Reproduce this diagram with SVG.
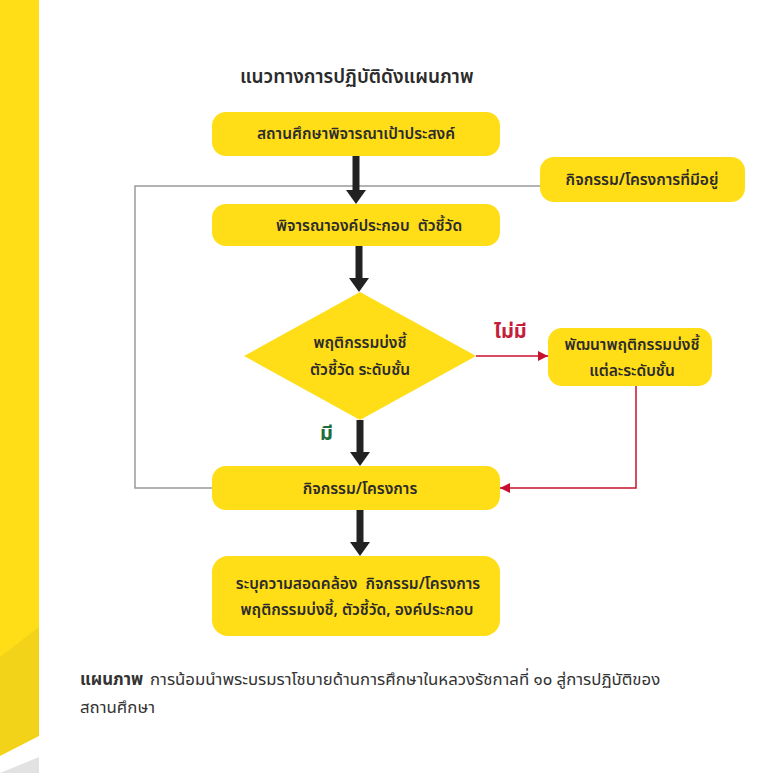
<svg xmlns="http://www.w3.org/2000/svg" width="770" height="773" viewBox="0 0 770 773">
<style>
.node{fill:#FFDD17}
.t{font-family:"Noto Sans Thai","Noto Sans","DejaVu Sans",sans-serif;fill:#2b2b2b;font-weight:600;font-size:15.5px;text-anchor:middle}
.title{font-family:"Noto Sans Thai","Noto Sans","DejaVu Sans",sans-serif;fill:#2b2b2b;font-weight:600;font-size:19px}
.cap{font-family:"Noto Sans Thai","Noto Sans","DejaVu Sans",sans-serif;fill:#333;font-size:16.8px}
.gray{fill:none;stroke:#9a9a9a;stroke-width:1.5}
.red{fill:none;stroke:#C8102E;stroke-width:1.5}
.blk{stroke:#222;stroke-width:7}
</style>
<defs>
<marker id="ah" viewBox="0 0 10 10" refX="10" refY="5" markerWidth="10" markerHeight="10" markerUnits="userSpaceOnUse" orient="auto">
<path d="M0,0 L10,5 L0,10 z" fill="#C8102E"/>
</marker>
</defs>
<rect width="770" height="773" fill="#fff"/>
<g id="sidebar">
<rect x="0" y="0" width="39" height="773" fill="#FFDD17"/>
<polygon points="0,657 39,627 39,736 0,756" fill="#F3D21A"/>
<polygon points="0,756 39,736 39,773 0,773" fill="#fff"/>
<polygon points="0,773 39,757 39,773" fill="#E2E2E2"/>
</g>
<text class="title" x="240" y="83">แนวทางการปฏิบัติดังแผนภาพ</text>
<g id="connectors">
<polyline class="gray" points="540,186 135,186 135,488 212,488"/>
<line class="red" x1="476" y1="356" x2="548" y2="356" marker-end="url(#ah)"/>
<polyline class="red" points="636,386 636,488 500,488" marker-end="url(#ah)"/>
<g fill="#222">
<line class="blk" x1="356" y1="156" x2="356" y2="192"/>
<polygon points="346,190 366,190 356,204"/>
<line class="blk" x1="359" y1="246" x2="359" y2="280"/>
<polygon points="349,278 369,278 359,292"/>
<line class="blk" x1="360" y1="420" x2="360" y2="454"/>
<polygon points="350,452 370,452 360,466"/>
<line class="blk" x1="360" y1="510" x2="360" y2="544"/>
<polygon points="350,542 370,542 360,556"/>
</g>
<text x="494" y="338" font-family="Noto Sans Thai,Noto Sans,sans-serif" font-weight="700" font-size="20" fill="#C41E3A">ไม่มี</text>
<text x="320" y="440" font-family="Noto Sans Thai,Noto Sans,sans-serif" font-weight="700" font-size="20" fill="#1E6E3C">มี</text>
</g>
<g id="n1">
<rect class="node" x="212" y="112" width="288" height="44" rx="14"/>
<text class="t" x="356" y="139">สถานศึกษาพิจารณาเป้าประสงค์</text>
</g>
<g id="n_exist">
<rect class="node" x="540" y="157" width="205" height="45" rx="14"/>
<text class="t" x="642" y="185">กิจกรรม/โครงการที่มีอยู่</text>
</g>
<g id="n2">
<rect class="node" x="212" y="204" width="288" height="42" rx="14"/>
<text class="t" x="369" y="231">พิจารณาองค์ประกอบ&#160;&#160;ตัวชี้วัด</text>
</g>
<g id="decision">
<polygon class="node" points="360,292 476,356 360,420 244,356"/>
<text class="t" x="360" y="348">พฤติกรรมบ่งชี้</text>
<text class="t" x="360" y="375">ตัวชี้วัด ระดับชั้น</text>
</g>
<g id="n_dev">
<rect class="node" x="548" y="328" width="164" height="58" rx="14"/>
<text class="t" x="632" y="350">พัฒนาพฤติกรรมบ่งชี้</text>
<text class="t" x="632" y="376">แต่ละระดับชั้น</text>
</g>
<g id="n3">
<rect class="node" x="212" y="466" width="288" height="44" rx="14"/>
<text class="t" x="360" y="494">กิจกรรม/โครงการ</text>
</g>
<g id="n4">
<rect class="node" x="212" y="556" width="288" height="80" rx="16"/>
<text class="t" x="358" y="589">ระบุความสอดคล้อง&#160;&#160;กิจกรรม/โครงการ</text>
<text class="t" x="357" y="615">พฤติกรรมบ่งชี้, ตัวชี้วัด, องค์ประกอบ</text>
</g>
<g id="caption">
<text class="cap" x="80" y="685" font-weight="700" font-size="15.5">แผนภาพ</text>
<text class="cap" x="150" y="685">การน้อมนำพระบรมราโชบายด้านการศึกษาในหลวงรัชกาลที่ ๑๐ สู่การปฏิบัติของ</text>
<text class="cap" x="80" y="713">สถานศึกษา</text>
</g>
</svg>
